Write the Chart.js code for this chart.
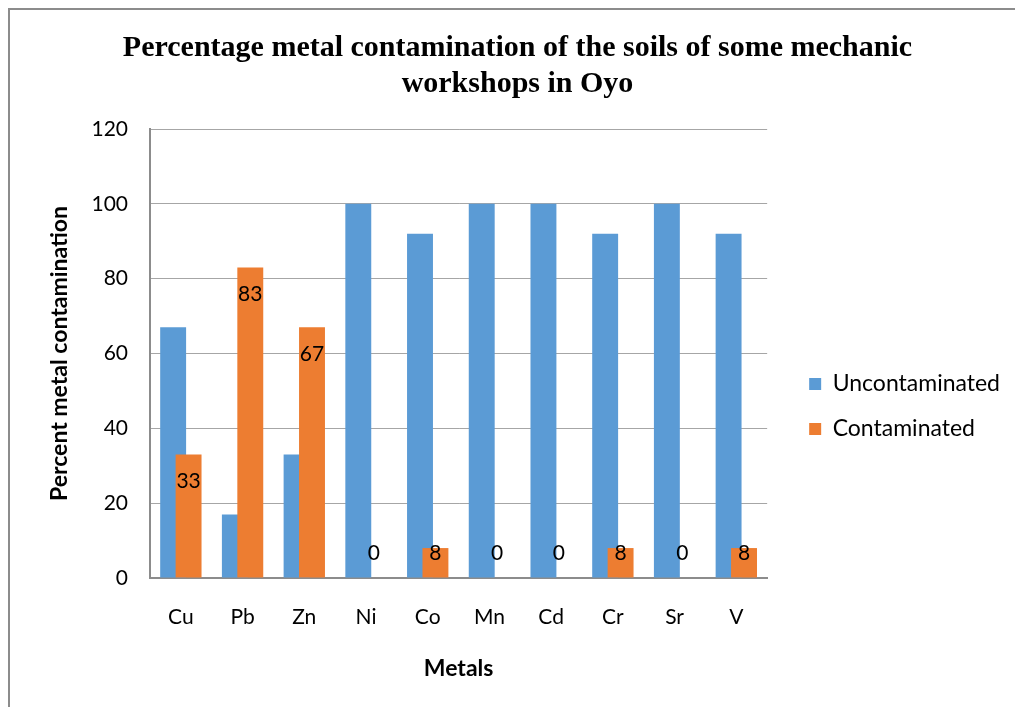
<!DOCTYPE html>
<html>
<head>
<meta charset="utf-8">
<script src="https://cdn.jsdelivr.net/npm/chart.js@4"></script>
<style>
  body { margin: 0; background: #fff; overflow: hidden; }
  #wrap { width: 1015px; height: 707px; }
</style>
</head>
<body>
<div id="wrap"><canvas id="chart" width="1015" height="707"></canvas></div>
<script>
const metals = ['Cu', 'Pb', 'Zn', 'Ni', 'Co', 'Mn', 'Cd', 'Cr', 'Sr', 'V'];
const uncontaminated = [67, 17, 33, 100, 92, 100, 100, 92, 100, 92];
const contaminated = [33, 83, 67, 0, 8, 0, 0, 8, 0, 8];
const yTicks = [0, 20, 40, 60, 80, 100, 120];

const SANS = 'Lato, "Open Sans", sans-serif';

// outer frame of the chart, cut off by the picture on the right and bottom
const framePlugin = {
  id: 'frame',
  beforeDraw(chart) {
    const ctx = chart.ctx;
    ctx.save();
    ctx.fillStyle = '#fff';
    ctx.fillRect(0, 0, chart.width, chart.height);
    ctx.strokeStyle = '#8c8c8c';
    ctx.lineWidth = 2;
    ctx.strokeRect(9, 9, chart.width + 50, chart.height + 50);
    ctx.restore();
  }
};

// legend sits a bit further right and lower than chart.js puts it
const legendNudge = {
  id: 'legendNudge',
  afterLayout(chart) {
    const lg = chart.legend;
    lg.left += 20; lg.right += 20;
    lg.top += 53; lg.bottom += 53;
  }
};

// bars overlap, so draw blue first and orange on top of it
const drawOrder = {
  id: 'drawOrder',
  beforeDatasetsDraw(chart) {
    [0, 1].forEach(i => chart.getDatasetMeta(i).controller.draw());
    return false;
  }
};

// value labels on the contaminated series, kept inside the bar top
const valueLabels = {
  id: 'valueLabels',
  afterDraw(chart) {
    const ctx = chart.ctx;
    const meta = chart.getDatasetMeta(1);
    const base = chart.scales.y.getPixelForValue(0);
    ctx.save();
    ctx.font = '21px ' + SANS;
    ctx.fillStyle = '#000';
    ctx.textAlign = 'center';
    ctx.textBaseline = 'middle';
    meta.data.forEach((bar, i) => {
      const y = Math.min(bar.y + 27, base - 25);
      ctx.fillText(String(contaminated[i]), bar.x, y);
    });
    ctx.restore();
  }
};

new Chart(document.getElementById('chart'), {
  type: 'bar',
  data: {
    labels: metals,
    datasets: [
      { label: 'Uncontaminated', data: uncontaminated, backgroundColor: '#5B9BD5' },
      { label: 'Contaminated', data: contaminated, backgroundColor: '#ED7D31' }
    ]
  },
  options: {
    responsive: false,
    animation: false,
    devicePixelRatio: 1,
    layout: { padding: { left: 45, right: 25, top: 0, bottom: 0 } },
    datasets: { bar: { categoryPercentage: 0.5, barPercentage: 1.68 } },
    plugins: {
      title: {
        display: true,
        text: ['Percentage metal contamination of the soils of some mechanic', 'workshops in Oyo'],
        color: '#000',
        font: { family: '"Liberation Serif", "Times New Roman", serif', size: 30, weight: 'bold', lineHeight: 36 / 30 },
        padding: { top: 30, bottom: 27 }
      },
      legend: {
        position: 'right',
        labels: {
          boxWidth: 12,
          boxHeight: 12,
          padding: 22,
          color: '#000',
          font: { family: SANS, size: 23 }
        }
      },
      tooltip: { enabled: false }
    },
    scales: {
      x: {
        grid: { display: false, drawTicks: false },
        border: { color: '#8c8c8c', width: 2 },
        ticks: { color: '#000', font: { family: SANS, size: 21 }, padding: 27 },
        title: {
          display: true,
          text: 'Metals',
          color: '#000',
          font: { family: SANS, size: 23, weight: 'bold' },
          padding: { top: 0, bottom: 25 }
        },
        afterFit(scale) { scale.height = 707 - 578; }
      },
      y: {
        min: 0,
        max: 120,
        afterBuildTicks(scale) { scale.ticks = yTicks.map(v => ({ value: v })); },
        grid: { color: '#a6a6a6', lineWidth: 1, drawTicks: false },
        border: { color: '#8c8c8c', width: 2 },
        ticks: { color: '#000', font: { family: SANS, size: 21 }, padding: 22 },
        title: {
          display: true,
          text: 'Percent metal contamination',
          color: '#000',
          font: { family: SANS, size: 23, weight: 'bold' },
          padding: { top: 1, bottom: 10 }
        },
        afterFit(scale) { scale.width = 105; }
      }
    }
  },
  plugins: [framePlugin, legendNudge, drawOrder, valueLabels]
});
</script>
</body>
</html>
